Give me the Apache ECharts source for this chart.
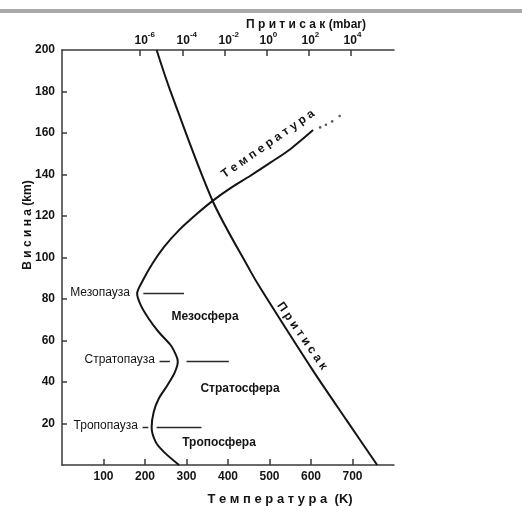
<!DOCTYPE html>
<html>
<head>
<meta charset="utf-8">
<script src="https://cdn.jsdelivr.net/npm/echarts@6/dist/echarts.min.js"></script>
<style>
html,body{margin:0;padding:0;background:#fff;}
#c{width:522px;height:506px;}
</style>
</head>
<body>
<div id="c"></div>
<script>
// Altitude axis ticks (km) and temperature axis ticks (K)
const altitudeTicks = [20, 40, 60, 80, 100, 120, 140, 160, 180, 200];
const temperatureTicks = [100, 200, 300, 400, 500, 600, 700];
// Pressure axis ticks (exponent of 10, mbar)
const pressureTickExponents = [-6, -4, -2, 0, 2, 4];

// Temperature profile: altitude (km) and temperature (K)
const tempAltitude = [0, 6.2, 11.0, 18.2, 25.5, 31.9, 38.4, 44.8, 49.9, 52.8, 57.7, 64.1, 70.5, 76.9, 82.6, 89.0, 97.1, 105.1, 113.2, 121.2, 127.3, 133.4, 139.4, 145.7, 152.2, 161.4];
const tempKelvin   = [282, 246, 226, 216, 221, 233, 254, 272, 279, 275, 262, 233, 209, 190, 181, 195, 218, 246, 282, 326, 363, 406, 454, 502, 550, 605];
// dotted continuation of the temperature curve
const tempDotAltitude = [162.7, 164.0, 165.6, 168.2];
const tempDotKelvin   = [622, 636, 651, 669];

// Pressure profile: altitude (km) and log10(pressure / mbar)
const pressAltitude = [0, 21.5, 45.6, 84.2, 93.8, 127.6, 180.7, 200];
const pressExponent = [5.27, 3.82, 2.21, -0.22, -0.78, -2.57, -4.58, -5.22];

// Layer boundaries
const pauseNames    = ['Тропопауза', 'Стратопауза', 'Мезопауза'];
const pauseAltitude = [18.4, 50.2, 82.6];
const pauseDashK    = [[194, 208], [235, 260], null];
const pauseLineK    = [[228, 336], [300, 402], [196, 294]];
const layerNames    = ['Тропосфера', 'Стратосфера', 'Мезосфера'];

const FONT = '"Liberation Sans", Arial, sans-serif';
const INK = '#141414';
const AXIS = '#3a3a3a';

const chart = echarts.init(document.getElementById('c'), null, {renderer: 'canvas'});

const tempData = tempKelvin.map((t, i) => [t, tempAltitude[i]]);
const dotData = tempDotKelvin.map((t, i) => [t, tempDotAltitude[i]]);
const pressData = pressExponent.map((p, i) => [p, pressAltitude[i]]);

const segs = [];
pauseAltitude.forEach((a, i) => {
  if (pauseDashK[i]) segs.push({coords: [[pauseDashK[i][0], a], [pauseDashK[i][1], a]]});
  segs.push({coords: [[pauseLineK[i][0], a], [pauseLineK[i][1], a]]});
});

const textStyleBase = {fontFamily: FONT, fill: INK};

function txt(x, y, text, opts) {
  return Object.assign({
    type: 'text', x: x, y: y, silent: true,
    style: Object.assign({}, textStyleBase, {text: text, fontSize: 12, align: 'left', verticalAlign: 'middle'}, opts && opts.style || {})
  }, opts && opts.el || {});
}

const option = {
  animation: false,
  backgroundColor: '#fff',
  grid: {left: 62, right: 128, top: 50, bottom: 41, containLabel: false},
  xAxis: [
    {
      type: 'value', position: 'bottom', min: 0, max: 800,
      axisLine: {show: true, onZero: false, lineStyle: {color: AXIS, width: 1.5}},
      axisTick: {show: true, inside: true, length: 6, customValues: temperatureTicks, lineStyle: {color: AXIS, width: 1.5}},
      axisLabel: {customValues: temperatureTicks, margin: 6, fontFamily: FONT, fontWeight: 'bold', fontSize: 12, color: INK},
      splitLine: {show: false}
    },
    {
      type: 'value', position: 'top', min: -9.72, max: 6.07,
      axisLine: {show: true, onZero: false, lineStyle: {color: AXIS, width: 1.5}},
      axisTick: {show: true, inside: true, length: 6, customValues: pressureTickExponents, lineStyle: {color: AXIS, width: 1.5}},
      axisLabel: {
        customValues: pressureTickExponents, margin: 3, color: INK,
        formatter: function (v) {
          const e = Math.round(v);
          return '{sp' + (e < 0 ? 'n' : 'p') + '|}{b|10}{s|' + e + '}';
        },
        rich: {
          spn: {width: 9}, spp: {width: 4},
          b: {fontFamily: FONT, fontWeight: 'bold', fontSize: 12, color: INK, lineHeight: 16, verticalAlign: 'bottom'},
          s: {fontFamily: FONT, fontWeight: 'bold', fontSize: 8, color: INK, lineHeight: 8, verticalAlign: 'top'}
        }
      },
      splitLine: {show: false}
    }
  ],
  yAxis: [{
    type: 'value', min: 0, max: 200, interval: 20,
    axisLine: {show: true, onZero: false, lineStyle: {color: AXIS, width: 1.5}},
    axisTick: {show: true, inside: true, length: 5, customValues: altitudeTicks.slice(0, -1), lineStyle: {color: AXIS, width: 1.5}},
    axisLabel: {customValues: altitudeTicks, margin: 7, fontFamily: FONT, fontWeight: 'bold', fontSize: 12, color: INK},
    splitLine: {show: false}
  }],
  series: [
    {
      name: 'Температура', type: 'line', xAxisIndex: 0, yAxisIndex: 0,
      data: tempData, smooth: 0.3, showSymbol: false, symbol: 'none',
      lineStyle: {color: INK, width: 2}
    },
    {
      name: 'dots', type: 'scatter', xAxisIndex: 0, yAxisIndex: 0,
      data: dotData, symbol: 'circle', symbolSize: 2.6,
      itemStyle: {color: '#333'}
    },
    {
      name: 'Притисак', type: 'line', xAxisIndex: 1, yAxisIndex: 0,
      data: pressData, smooth: 0.3, showSymbol: false, symbol: 'none',
      lineStyle: {color: INK, width: 2}
    },
    {
      name: 'boundaries', type: 'lines', coordinateSystem: 'cartesian2d', xAxisIndex: 0, yAxisIndex: 0,
      data: segs, lineStyle: {color: '#2a2a2a', width: 1.4, opacity: 1}, symbol: 'none'
    }
  ],
  graphic: [
    {type: 'rect', shape: {x: 0, y: 9, width: 522, height: 4}, style: {fill: '#a9a9a9'}, silent: true},
    // axis titles
    txt(306, 25, 'П р и т и с а к (mbar)', {style: {fontWeight: 'bold', fontSize: 12, align: 'center'}}),
    txt(280, 499, 'Т е м п е р а т у р а  (K)', {style: {fontWeight: 'bold', fontSize: 13, align: 'center'}}),
    txt(28, 225, 'В и с и н а (km)', {style: {fontWeight: 'bold', fontSize: 12, align: 'center'}, el: {rotation: Math.PI / 2}}),
    // curve labels
    txt(268, 144, 'Т е м п е р а т у р а', {style: {fontWeight: 'bold', fontSize: 12, align: 'center'}, el: {rotation: 34.8 * Math.PI / 180}}),
    txt(302, 336, 'П р и т и с а к', {style: {fontWeight: 'bold', fontSize: 12, align: 'center'}, el: {rotation: -55.3 * Math.PI / 180}}),
    // boundary labels
    txt(130, 293, pauseNames[2], {style: {align: 'right'}}),
    txt(155, 360, pauseNames[1], {style: {align: 'right'}}),
    txt(138, 426, pauseNames[0], {style: {align: 'right'}}),
    // layer labels
    txt(205, 317, layerNames[2], {style: {align: 'center', fontWeight: 'bold'}}),
    txt(240, 389, layerNames[1], {style: {align: 'center', fontWeight: 'bold'}}),
    txt(219, 443, layerNames[0], {style: {align: 'center', fontWeight: 'bold'}})
  ]
};
chart.setOption(option);
</script>
</body>
</html>
